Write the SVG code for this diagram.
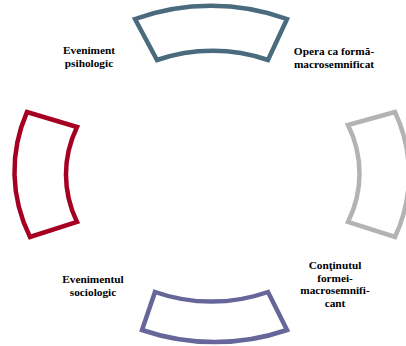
<svg xmlns="http://www.w3.org/2000/svg" width="406" height="346" viewBox="0 0 406 346">
<style>
.seg{fill:#fff;stroke-width:4.5;stroke-linejoin:miter}
text{font-family:'Liberation Serif','Times New Roman',Times,serif;font-weight:bold;font-size:11.3px;fill:#000;text-anchor:middle}
</style>
<rect width="406" height="346" fill="#fff"/>
<g id="seg-top"><path class="seg" stroke="#4A6B7D" d="M135,19 A195,168 0 0 1 287,19 L268,60 A147,125 0 0 0 157,60 Z"/></g>
<g id="seg-right"><path class="seg" stroke="#B3B3B3" d="M395,112 A195,168 0 0 1 395,237 L348,222 A147,125 0 0 0 348,125 Z"/></g>
<g id="seg-bottom"><path class="seg" stroke="#66669A" d="M287,330 A195,168 0 0 1 142,330 L155,292 A147,125 0 0 0 268,292 Z"/></g>
<g id="seg-left"><path class="seg" stroke="#A50021" d="M30,237 A195,168 0 0 1 27,112 L77,127 A147,125 0 0 0 77,222 Z"/></g>
<g id="label-psihologic"><text x="89" y="54">Eveniment</text><text x="89" y="66.5">psihologic</text></g>
<g id="label-opera"><text x="334" y="55">Opera ca formă-</text><text x="334" y="67.5">macrosemnificat</text></g>
<g id="label-sociologic"><text x="93" y="283">Evenimentul</text><text x="93" y="295.5">sociologic</text></g>
<g id="label-continut"><text x="335" y="269">Conţinutul</text><text x="335" y="281.5">formei-</text><text x="335" y="294">macrosemnifi-</text><text x="335" y="306.5">cant</text></g>
<g id="connectors"></g>
</svg>
